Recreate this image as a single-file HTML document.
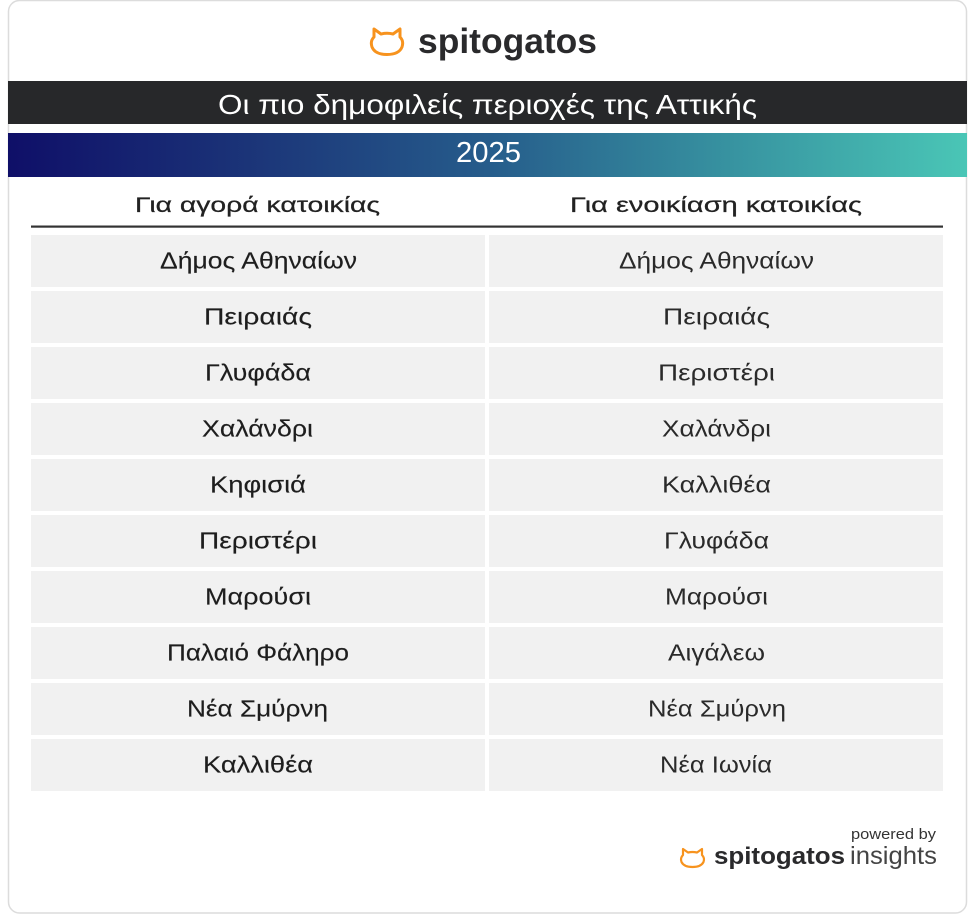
<!DOCTYPE html>
<html><head><meta charset="utf-8"><style>
html,body{margin:0;padding:0;background:#fff;}
svg{display:block;}
text{font-family:"Liberation Sans","DejaVu Sans",sans-serif;}
</style></head><body>
<svg width="977" height="916" viewBox="0 0 977 916" xmlns="http://www.w3.org/2000/svg">
<defs>
<linearGradient id="g" x1="0" y1="0" x2="1" y2="0">
<stop offset="0" stop-color="#0f0f68"/>
<stop offset="0.25" stop-color="#1b3478"/>
<stop offset="0.5" stop-color="#265c8b"/>
<stop offset="0.75" stop-color="#3792a0"/>
<stop offset="1" stop-color="#4ac6b6"/>
</linearGradient>
</defs>
<rect x="8.5" y="0.5" width="958" height="912.5" rx="11" ry="11" fill="#fff" stroke="#dcdcdc" stroke-width="1.5"/>

<!-- top logo -->
<path d="M374,37 L374,29 L381,34 Q387,32.5 393,34 L400,29 L400,37 Q404,41 402,47 Q399,54.5 387,54.5 Q375,54.5 372,47 Q370,41 374,37 Z" fill="none" stroke="#f7931e" stroke-width="3" stroke-linejoin="round"/>
<text x="418" y="53" font-size="35" font-weight="bold" fill="#2a2a2c" textLength="179" lengthAdjust="spacingAndGlyphs">spitogatos</text>

<!-- title bar -->
<rect x="8" y="81" width="959" height="43" fill="#27282a"/>
<text x="487.5" y="114" font-size="28" fill="#fff" text-anchor="middle" textLength="539" lengthAdjust="spacingAndGlyphs">Οι πιο δημοφιλείς περιοχές της Αττικής</text>

<rect x="8" y="133" width="959" height="44" fill="url(#g)"/>
<text x="488.5" y="162" font-size="29" fill="#fff" text-anchor="middle" textLength="65" lengthAdjust="spacingAndGlyphs">2025</text>

<!-- headers -->
<text x="257.5" y="212" font-size="21" fill="#222" stroke="#222" stroke-width="0.25" text-anchor="middle" textLength="245" lengthAdjust="spacingAndGlyphs">Για αγορά κατοικίας</text>
<text x="716" y="212" font-size="21" fill="#222" stroke="#222" stroke-width="0.25" text-anchor="middle" textLength="292" lengthAdjust="spacingAndGlyphs">Για ενοικίαση κατοικίας</text>
<rect x="31" y="225.5" width="912" height="2.2" fill="#333"/>

<!-- rows -->
<g fill="#f1f1f1">
<rect x="31" y="235" width="454" height="52"/><rect x="489" y="235" width="454" height="52"/>
<rect x="31" y="291" width="454" height="52"/><rect x="489" y="291" width="454" height="52"/>
<rect x="31" y="347" width="454" height="52"/><rect x="489" y="347" width="454" height="52"/>
<rect x="31" y="403" width="454" height="52"/><rect x="489" y="403" width="454" height="52"/>
<rect x="31" y="459" width="454" height="52"/><rect x="489" y="459" width="454" height="52"/>
<rect x="31" y="515" width="454" height="52"/><rect x="489" y="515" width="454" height="52"/>
<rect x="31" y="571" width="454" height="52"/><rect x="489" y="571" width="454" height="52"/>
<rect x="31" y="627" width="454" height="52"/><rect x="489" y="627" width="454" height="52"/>
<rect x="31" y="683" width="454" height="52"/><rect x="489" y="683" width="454" height="52"/>
<rect x="31" y="739" width="454" height="52"/><rect x="489" y="739" width="454" height="52"/>
</g>

<g font-size="23" fill="#1e1e1e" stroke="#1e1e1e" stroke-width="0.15" text-anchor="middle">
<text x="258.5" y="268.5" textLength="197" lengthAdjust="spacingAndGlyphs">Δήμος Αθηναίων</text>
<text x="258" y="324.5" textLength="108" lengthAdjust="spacingAndGlyphs">Πειραιάς</text>
<text x="258" y="380.5" textLength="106" lengthAdjust="spacingAndGlyphs">Γλυφάδα</text>
<text x="257.5" y="436.5" textLength="111" lengthAdjust="spacingAndGlyphs">Χαλάνδρι</text>
<text x="258" y="492.5" textLength="96" lengthAdjust="spacingAndGlyphs">Κηφισιά</text>
<text x="258" y="548.5" textLength="118" lengthAdjust="spacingAndGlyphs">Περιστέρι</text>
<text x="258" y="604.5" textLength="106" lengthAdjust="spacingAndGlyphs">Μαρούσι</text>
<text x="258" y="660.5" textLength="182" lengthAdjust="spacingAndGlyphs">Παλαιό Φάληρο</text>
<text x="257.5" y="716.5" textLength="141" lengthAdjust="spacingAndGlyphs">Νέα Σμύρνη</text>
<text x="258" y="772.5" textLength="110" lengthAdjust="spacingAndGlyphs">Καλλιθέα</text>
</g>

<g font-size="23" fill="#2a2a2a" text-anchor="middle">
<text x="716.5" y="268.5" textLength="195" lengthAdjust="spacingAndGlyphs">Δήμος Αθηναίων</text>
<text x="716.5" y="324.5" textLength="107" lengthAdjust="spacingAndGlyphs">Πειραιάς</text>
<text x="716.5" y="380.5" textLength="117" lengthAdjust="spacingAndGlyphs">Περιστέρι</text>
<text x="716.5" y="436.5" textLength="109" lengthAdjust="spacingAndGlyphs">Χαλάνδρι</text>
<text x="716.5" y="492.5" textLength="109" lengthAdjust="spacingAndGlyphs">Καλλιθέα</text>
<text x="716.5" y="548.5" textLength="105" lengthAdjust="spacingAndGlyphs">Γλυφάδα</text>
<text x="716.5" y="604.5" textLength="103" lengthAdjust="spacingAndGlyphs">Μαρούσι</text>
<text x="716.5" y="660.5" textLength="97" lengthAdjust="spacingAndGlyphs">Αιγάλεω</text>
<text x="717" y="716.5" textLength="138" lengthAdjust="spacingAndGlyphs">Νέα Σμύρνη</text>
<text x="716" y="772.5" textLength="112" lengthAdjust="spacingAndGlyphs">Νέα Ιωνία</text>
</g>

<!-- footer -->
<text x="851" y="839" font-size="15" fill="#333" textLength="85" lengthAdjust="spacingAndGlyphs">powered by</text>
<path d="M683,855 L683,849 L688,852.5 Q692.5,851.5 697,852.5 L702,849 L702,855 Q705,858 703.5,862 Q701,867 692.5,867 Q684,867 681.5,862 Q680,858 683,855 Z" fill="none" stroke="#f7931e" stroke-width="2.2" stroke-linejoin="round"/>
<text x="714" y="864" font-size="24" font-weight="bold" fill="#2a2a2c" textLength="131" lengthAdjust="spacingAndGlyphs">spitogatos</text>
<text x="850" y="864" font-size="25" fill="#444" textLength="87" lengthAdjust="spacingAndGlyphs">insights</text>
</svg>
</body></html>
